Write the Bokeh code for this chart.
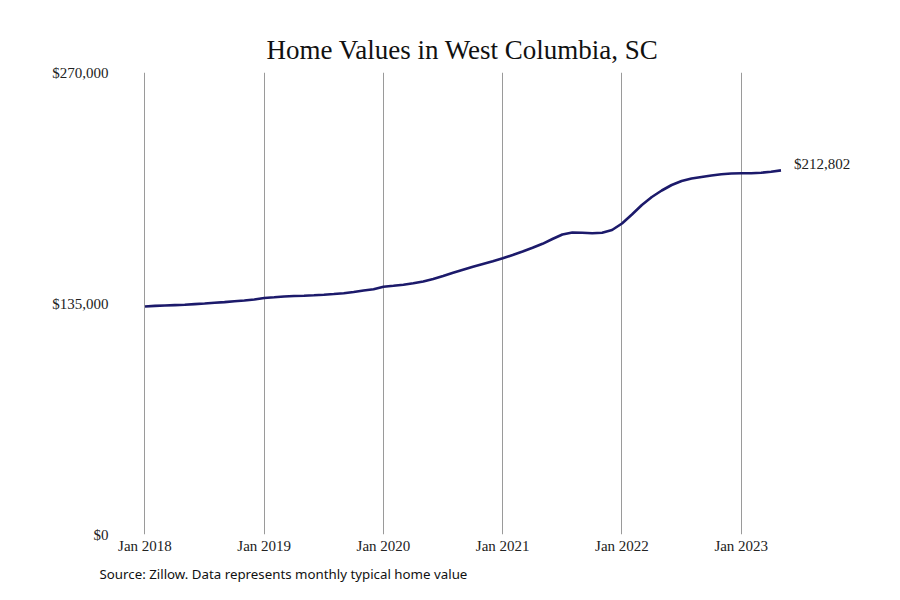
from bokeh.plotting import figure
from bokeh.models import FixedTicker, Label, Range1d, Title
from bokeh.embed import file_html
from bokeh.resources import INLINE

# Monthly typical home value, Jan 2018 .. May 2023
months = list(range(65))
values = [
    133243, 133594, 133828, 134061, 134295, 134646, 134996, 135405, 135815, 136282, 136750, 137334,
    138211, 138620, 139087, 139379, 139555, 139789, 140139, 140548, 141016, 141717, 142594, 143295,
    144756, 145340, 145983, 146801, 147853, 149314, 151067, 152937, 154691, 156444, 158080, 159717,
    161411, 163340, 165385, 167547, 169885, 172690, 175320, 176489, 176313, 176021, 176372, 177950,
    181748, 187008, 192560, 197235, 201034, 204248, 206585, 208046, 208923, 209800, 210501, 210968,
    211144, 211120, 211400, 212000, 212802,
]
x_ticks = [0, 12, 24, 36, 48, 60]
x_tick_labels = ["Jan 2018", "Jan 2019", "Jan 2020", "Jan 2021", "Jan 2022", "Jan 2023"]
y_ticks = [0, 135000, 270000]
y_tick_labels = ["$0", "$135,000", "$270,000"]
title_text = "Home Values in West Columbia, SC"
source_text = "Source: Zillow. Data represents monthly typical home value"
end_label = "$212,802"

SERIF = "Liberation Serif"
LINE = "#1c1a6b"

p = figure(width=892, height=595, output_backend="svg", toolbar_location=None,
           x_range=Range1d(-0.15, 72.0), y_range=Range1d(0, 270000),
           min_border_left=143, min_border_right=32, min_border_top=72, min_border_bottom=61,
           title=None)
p.outline_line_color = None
p.background_fill_color = "white"
p.border_fill_color = "white"

p.line(months, values, line_color=LINE, line_width=2.6)

# axes
p.xaxis.ticker = FixedTicker(ticks=x_ticks)
p.xaxis.major_label_overrides = {t: l for t, l in zip(x_ticks, x_tick_labels)}
p.yaxis.ticker = FixedTicker(ticks=y_ticks)
p.yaxis.major_label_overrides = {t: l for t, l in zip(y_ticks, y_tick_labels)}
for ax in (p.xaxis[0], p.yaxis[0]):
    ax.axis_line_color = None
    ax.major_tick_line_color = None
    ax.minor_tick_line_color = None
    ax.major_tick_in = 0
    ax.major_tick_out = 0
    ax.major_label_text_font = SERIF
    ax.major_label_text_font_size = "15px"
    ax.major_label_text_color = "#222222"
p.xaxis.major_label_standoff = 3
p.yaxis.major_label_standoff = 35

p.ygrid.grid_line_color = None
p.xgrid.grid_line_color = "#9a9a9a"
p.xgrid.grid_line_width = 1

# end label
p.add_layout(Label(x=months[-1], y=values[-1], text=end_label, x_offset=13, y_offset=6,
                   text_font=SERIF, text_font_size="15px", text_color="#222222",
                   text_baseline="middle", text_align="left"))

# title and source
p.add_layout(Title(text=title_text, text_font=SERIF, text_font_size="27px",
                   text_font_style="normal", text_color="#111111", align="left",
                   offset=123, standoff=16), "above")
p.add_layout(Title(text=source_text, text_font="Noto Sans", text_font_size="13.3px",
                   text_font_style="normal", text_color="#111111", align="left",
                   offset=-44, standoff=12), "below")

open("out.html", "w").write(file_html(p, INLINE))
